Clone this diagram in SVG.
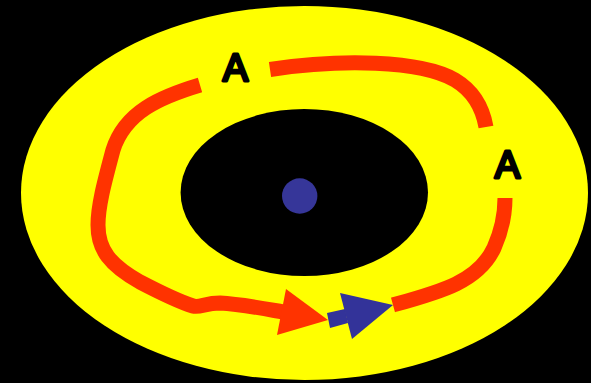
<svg xmlns="http://www.w3.org/2000/svg" width="591" height="383" viewBox="0 0 591 383">
<style>
.red{fill:none;stroke:#FF3300;stroke-width:15;stroke-linecap:butt;stroke-linejoin:round}
.lbl{font-family:"Liberation Sans",Arial,sans-serif;font-weight:normal;font-size:38px;fill:#000;stroke:#000;stroke-width:3;stroke-linejoin:round;stroke-linecap:round;text-anchor:middle}
</style>
<rect width="591" height="383" fill="#000"/>
<g id="outer"><ellipse cx="304.5" cy="193" rx="283.5" ry="187" fill="#FFFF00"/></g>
<g id="inner"><ellipse cx="304.3" cy="192.5" rx="123.7" ry="83.5" fill="#000"/></g>
<g id="center"><circle cx="299.7" cy="196" r="17.7" fill="#363699"/></g>
<g id="connectors">
<path class="red" d="M200,85 C160,97 125,112 113,150 C105,180 98,205 98,225 C98,250 110,265 140,282 C165,295 180,302 193,306 C200,308 205,303 220,303 C240,304 255,307 283,312"/>
<polygon points="286,289 277,335 328,320" fill="#FF3300"/>
<path class="red" d="M270,69.5 C340,59 420,60 455,80 C475,92 483,110 486,127"/>
<path class="red" d="M393,305 C440,292 478,282 494,248 C502,230 505,215 505,198"/>
<polygon points="327,313 330,328 348,323 345,309" fill="#333399"/>
<polygon points="340,293 352,339 393,305" fill="#333399"/>
</g>
<g id="label-top"><text class="lbl" x="235.5" y="81">A</text></g>
<g id="label-right"><text class="lbl" x="507.5" y="178">A</text></g>
</svg>
